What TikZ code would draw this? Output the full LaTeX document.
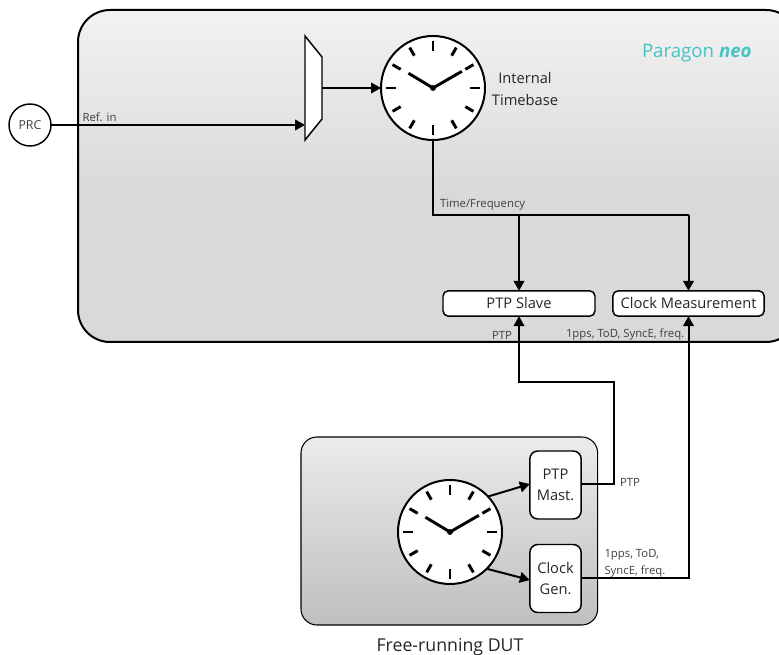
\documentclass[tikz,border=0pt]{standalone}
\usepackage{fontspec}
\setmainfont{Open Sans}
\usetikzlibrary{arrows.meta,calc}
\definecolor{mainbot}{HTML}{D9D9D9}
\definecolor{maintop}{HTML}{F2F2F2}
\definecolor{dutbot}{HTML}{BFBFBF}
\definecolor{duttop}{HTML}{EBEBEB}
\definecolor{txt}{HTML}{262626}
\definecolor{small}{HTML}{404040}
\definecolor{teal}{HTML}{45C4C4}
\pgfdeclareverticalshading{mainshade}{100bp}{color(0bp)=(mainbot); color(25bp)=(mainbot); color(47bp)=(mainbot); color(75bp)=(maintop); color(100bp)=(maintop)}
\pgfdeclareverticalshading{dutshade}{100bp}{color(0bp)=(dutbot); color(25bp)=(dutbot); color(75bp)=(duttop); color(100bp)=(duttop)}
\tikzset{
  px/.style={x=0.75pt,y=-0.75pt},
  every node/.style={outer sep=0pt},
  container/.style={draw=black,inner sep=0pt,line width=1.5pt},
  wire/.style={draw=black,line width=1.5pt},
  arr/.style={wire,-{Triangle[length=7.5pt,width=8pt]}},
  clockbody/.style={circle,draw=black,fill=white,line width=1.5pt,minimum size=78pt,inner sep=0pt},
  whitebox/.style={draw=black,fill=white,line width=1.1pt,rounded corners=4pt,inner sep=0pt,align=center,text=txt},
  smalltext/.style={text=small,font=\fontsize{8.5}{10}\selectfont,inner sep=0pt,align=left},
  bigtext/.style={text=txt,font=\fontsize{11}{16}\selectfont,inner sep=0pt,align=center}
}
\newcommand{\clockface}[1]{%
  \foreach \a in {0,30,...,330}{
    \draw[black,line width=2.2pt] ($(#1.center)+(\a:28pt)$) -- ($(#1.center)+(\a:35pt)$);
  }
  \draw[black,line width=2.2pt] ($(#1.center)+(149:21.5pt)$) -- (#1.center) -- ($(#1.center)+(30:25pt)$);
  \fill[black] (#1.center) circle (2.2pt);
}
\begin{document}
\begin{tikzpicture}[px]
\useasboundingbox (0,0) rectangle (779,655);
\begin{scope}
\clip (0,0) rectangle (779,655);
\node[container,shading=mainshade,rounded corners=24pt,minimum width=540pt,minimum height=249pt,anchor=north west] (main) at (78,10) {};
\end{scope}
\node[container,shading=dutshade,line width=0.8pt,rounded corners=12pt,minimum width=222.5pt,minimum height=141pt,anchor=north west] (dut) at (301,437) {};

% PRC and multiplexer
\node[circle,draw=black,fill=white,line width=1.1pt,minimum size=31.5pt,inner sep=0pt,text=small,font=\fontsize{9.3}{11}\selectfont] (prc) at (30,125) {PRC};
\coordinate (muxa) at (305,36);
\coordinate (muxb) at (322,57);
\coordinate (muxc) at (322,119);
\coordinate (muxd) at (305,140);
\coordinate (muxin) at (305,125);
\coordinate (muxout) at (322,88);
\draw[draw=black,fill=white,line width=1.1pt,line join=miter] (muxa) -- (muxb) -- (muxc) -- (muxd) -- cycle;

% Clocks
\node[clockbody] (clk) at (433,88) {};
\clockface{clk}
\node[clockbody] (dutclk) at (450,532) {};
\clockface{dutclk}

% Boxes
\node[whitebox,minimum width=114pt,minimum height=19pt,font=\fontsize{11}{13}\selectfont] (slave) at (519,303.5) {PTP Slave};
\node[whitebox,minimum width=113.5pt,minimum height=19pt,font=\fontsize{11}{13}\selectfont] (meas) at (688.5,303.5) {Clock Measurement};
\node[whitebox,rounded corners=6pt,minimum width=38.5pt,minimum height=51pt,font=\fontsize{11}{16}\selectfont] (mast) at (555.5,485) {PTP\\Mast.};
\node[whitebox,rounded corners=6pt,minimum width=38.5pt,minimum height=51pt,font=\fontsize{11}{16}\selectfont] (gen) at (555.5,578.5) {Clock\\Gen.};

% Internal connectors
\coordinate (busl) at (clk.south |- 0,215.5);
\coordinate (bus1) at (slave.north |- 0,215.5);
\coordinate (bus2) at (meas.north |- 0,215.5);
\coordinate (up1a) at (614,484);
\coordinate (up1b) at (614,382);
\coordinate (up1c) at (slave.south |- 0,382);
\coordinate (up2a) at (meas.south |- 0,578);
\draw[arr] (prc.east |- muxin) -- (muxin);
\draw[arr] (muxout) -- (clk.west);
\draw[wire] (clk.south) -- (busl) -- (bus2);
\draw[arr] (bus1) -- (slave.north);
\draw[arr] (bus2) -- (meas.north);
\draw[arr] (mast.east |- up1a) -- (up1a) -- (up1b) -- (up1c) -- (slave.south);
\draw[arr] (gen.east |- up2a) -- (up2a) -- (meas.south);
\draw[arr] (dutclk.43) -- (mast.west |- 0,484);
\draw[arr] (dutclk.-45) -- (gen.west |- 0,580);

% Labels
\node[smalltext,anchor=west] (lref) at (82.5,117.5) {Ref. in};
\node[smalltext,anchor=west] (ltf) at (440,205) {Time/Frequency};
\node[smalltext,anchor=west] (lptp1) at (492,335) {PTP};
\node[smalltext,anchor=west] (lsig) at (566,334.5) {1pps, ToD, SyncE, freq.};
\node[smalltext,anchor=west] (lptp2) at (620,482) {PTP};
\node[smalltext,anchor=west,font=\fontsize{8.5}{12.8}\selectfont] (lsig2) at (604.5,563) {1pps, ToD,\\SyncE, freq.};
\node[bigtext] (ltb) at (525,89) {Internal\\Timebase};
\node[bigtext,font=\fontsize{13.3}{16}\selectfont] (ldut) at (450,647) {Free-running DUT};
\node[text=teal,inner sep=0pt,anchor=west,font=\fontsize{14}{17}\selectfont] (lpar) at (642,53) {Paragon \textbf{\textit{neo}}};
\end{tikzpicture}
\end{document}
